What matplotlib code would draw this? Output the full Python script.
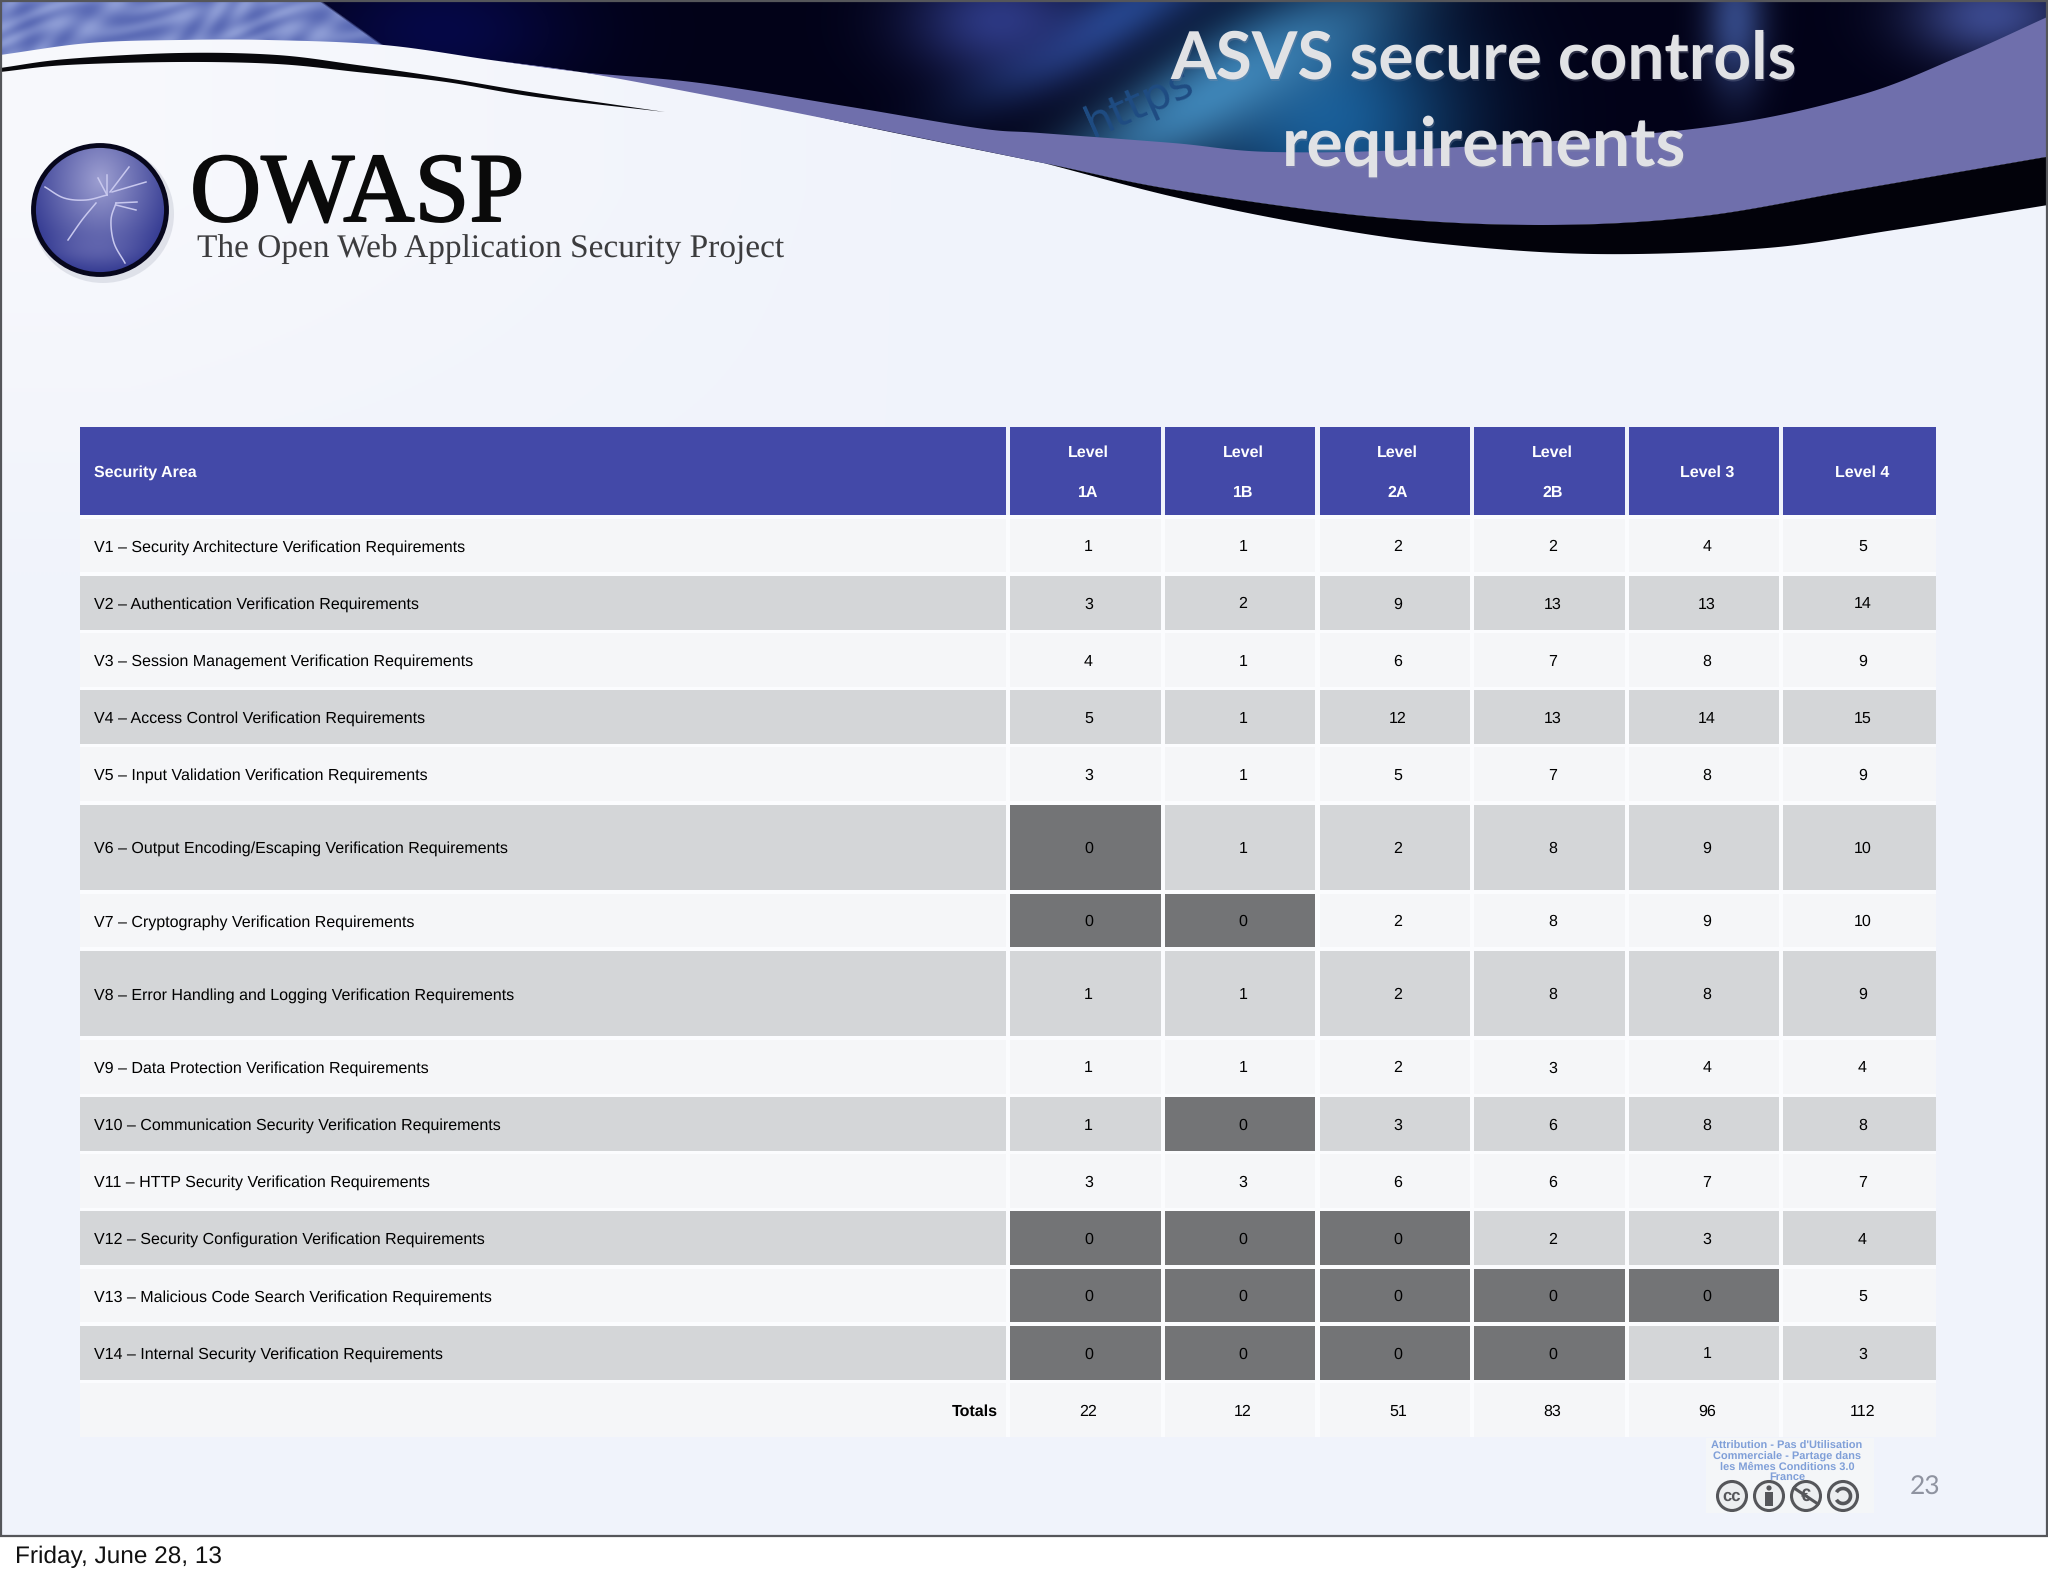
import numpy as np
import matplotlib
matplotlib.use('Agg')
import matplotlib.pyplot as plt
import matplotlib.patheffects as pe
from matplotlib.patches import Rectangle, Polygon, Circle, Ellipse, Arc

# datos de la tabla
areas = ['V1 – Security Architecture Verification Requirements',
         'V2 – Authentication Verification Requirements',
         'V3 – Session Management Verification Requirements',
         'V4 – Access Control Verification Requirements',
         'V5 – Input Validation Verification Requirements',
         'V6 – Output Encoding/Escaping Verification Requirements',
         'V7 – Cryptography Verification Requirements',
         'V8 – Error Handling and Logging Verification Requirements',
         'V9 – Data Protection Verification Requirements',
         'V10 – Communication Security Verification Requirements',
         'V11 – HTTP Security Verification Requirements',
         'V12 – Security Configuration Verification Requirements',
         'V13 – Malicious Code Search Verification Requirements',
         'V14 – Internal Security Verification Requirements']
headers = ['Level\n\n1A', 'Level\n\n1B', 'Level\n\n2A', 'Level\n\n2B', 'Level 3', 'Level 4']
level1a = [1, 3, 4, 5, 3, 0, 0, 1, 1, 1, 3, 0, 0, 0]
level1b = [1, 2, 1, 1, 1, 1, 0, 1, 1, 0, 3, 0, 0, 0]
level2a = [2, 9, 6, 12, 5, 2, 2, 2, 2, 3, 6, 0, 0, 0]
level2b = [2, 13, 7, 13, 7, 8, 8, 8, 3, 6, 6, 2, 0, 0]
level3 = [4, 13, 8, 14, 8, 9, 9, 8, 4, 8, 7, 3, 0, 1]
level4 = [5, 14, 9, 15, 9, 10, 10, 9, 4, 8, 7, 4, 5, 3]
totals = [22, 12, 51, 83, 96, 112]
tall_rows = [5, 7]

W, H = 2048, 1576
AZUL = '#4349a8'
CLARO = '#f5f6f8'
GRIS = '#d4d6d8'
OSCURO = '#737476'
TXT = 'Liberation Sans'

plt.rcParams['text.hinting'] = 'none'


def suave(puntos, n=24):
    # catmull-rom para que las curvas del banner salgan redondas
    p = np.array(puntos, dtype=float)
    p = np.vstack([2 * p[0] - p[1], p, 2 * p[-1] - p[-2]])
    salida = []
    for i in range(1, len(p) - 2):
        t = np.linspace(0, 1, n, endpoint=False)[:, None]
        a, b, c, d = p[i - 1], p[i], p[i + 1], p[i + 2]
        salida.append(0.5 * (2 * b + (c - a) * t + (2 * a - 5 * b + 4 * c - d) * t ** 2
                             + (3 * b - a - 3 * c + d) * t ** 3))
    salida.append(p[-2][None, :])
    return np.vstack(salida)


def z(puntos):
    return [(a * W / 1568, b / 3) for a, b in puntos]


fig = plt.figure(figsize=(W / 100, H / 100), dpi=100, facecolor='white')
ax = fig.add_axes([0, 0, 1, 1])
ax.axis('off')

# fondo de la diapositiva
yy, xx = np.mgrid[0:1536:4j, 0:2048:8j]
fondo = np.clip(1 - xx / 800 - yy / 500, 0, 1)[..., None]
rgb = np.array([0.945, 0.955, 0.985]) * (1 - fondo) + np.array([0.97, 0.975, 0.99]) * fondo
ax.imshow(rgb, extent=(0, W, 1536, 0), aspect='auto', interpolation='bilinear', zorder=0)

# imagen oscura del banner
yy, xx = np.mgrid[0:230, 0:2048]


def mancha(cx, cy, sx, sy, giro=0.0):
    c, s = np.cos(giro), np.sin(giro)
    u = (xx - cx) * c - (yy - cy) * s
    v = (xx - cx) * s + (yy - cy) * c
    return np.exp(-(u / sx) ** 2 - (v / sy) ** 2)[..., None]


textura = np.sin(xx / 11 + yy / 6 + 2 * np.sin(xx / 37)) * np.sin(xx / 23 - yy / 9 + 1.5 * np.sin(yy / 13 + xx / 19))
textura = (0.5 + 0.5 * textura)[..., None]
img = np.ones((230, 2048, 3)) * np.array([2, 2, 24]) / 255
for cx, cy, sx, sy, giro, col in [(440, 30, 130, 70, 0, (6, 8, 70)),
                                  (1330, 120, 130, 120, 0, (24, 92, 150)),
                                  (1220, 90, 190, 48, 0.52, (62, 132, 182)),
                                  (1110, 20, 140, 34, 0.5, (36, 70, 140)),
                                  (1000, 20, 90, 55, 0, (44, 56, 130)),
                                  (1735, 20, 30, 70, 0, (50, 70, 130)),
                                  (1990, 15, 80, 45, 0, (58, 72, 140))]:
    m = mancha(cx, cy, sx, sy, giro)
    img = img * (1 - m) + np.array(col) / 255 * m

# zona moteada arriba a la izquierda
izq = np.clip(321 + yy * 1.4 - xx, 0, 4)[..., None] / 4
moteado = np.array([92, 108, 182]) / 255 * (1 - textura) + np.array([140, 155, 212]) / 255 * textura
img = img * (1 - izq) + moteado * izq

borde_sup = [(0, 55), (89, 43), (179, 40), (268, 40), (384, 45), (491, 60), (580, 72), (700, 90)] \
    + z([(650, 370), (800, 490), (900, 570), (1050, 650), (1180, 675), (1300, 650), (1420, 570), (1568, 470)])
zona = np.vstack([[(0, 0)], suave(borde_sup), [(W, 0)]])
forma = Polygon(zona, closed=True, fc='none', ec='none', transform=ax.transData)
ax.add_patch(forma)
banner = ax.imshow(img, extent=(0, W, 230, 0), aspect='auto', zorder=1)
banner.set_clip_path(forma)
ax.text(1140, 103, 'https', fontsize=32, family='DejaVu Sans', color='#1f4c82', rotation=24,
        ha='center', va='center', zorder=1.5)

# banda lila y curva negra
arriba = suave([(491, 60), (580, 72), (700, 83)]
               + z([(650, 320), (750, 385)]) + [(1040, 133), (1173, 143), (1273, 152)]
               + z([(1100, 445), (1300, 385), (1420, 290), (1500, 170), (1568, 50)]))
abajo = suave([(491, 60), (580, 72), (700, 94)]
              + z([(650, 370), (800, 490), (900, 570), (1050, 650), (1180, 675), (1300, 650),
                   (1420, 570), (1568, 470)]))
ax.add_patch(Polygon(np.vstack([arriba, abajo[::-1]]), fc='#6f6fac', ec='none', zorder=2))
negro = suave(z([(800, 490), (900, 592), (1000, 672), (1100, 730), (1220, 762), (1350, 745),
                 (1450, 690), (1568, 615)]))
ax.add_patch(Polygon(np.vstack([abajo[abajo[:, 0] >= 800 * W / 1568], negro[::-1]]), fc='#02020a', ec='none', zorder=2))

# curva fina de la izquierda
fina_a = suave([(0, 68), (67, 59), (179, 53), (277, 55), (357, 65), (446, 78), (536, 93), (665, 112)])
fina_b = suave([(0, 72), (67, 65), (179, 62), (277, 64), (357, 72), (446, 82), (536, 97), (665, 112)])
ax.add_patch(Polygon(np.vstack([fina_a, fina_b[::-1]]), fc='#08080c', ec='none', zorder=2))

# titulo
for txt, y, size in [('ASVS secure controls', 78, 47.3), ('requirements', 165.7, 49)]:
    ax.text(1485, y + 2, txt, family='Lato', weight='bold', fontsize=size, color='#8a90a8', alpha=0.3,
            ha='center', va='baseline', zorder=3)
    ax.text(1484, y, txt, family='Lato', weight='bold', fontsize=size, color='#e1e2e5',
            ha='center', va='baseline', zorder=3)

# logo
ax.add_patch(Ellipse((103, 214), 142, 138, fc='#c4c8d4', ec='none', alpha=0.45, zorder=2))
yy, xx = np.mgrid[140:280, 30:170]
r = np.hypot((xx - 100) / 68, (yy - 180) / 85)[..., None]
r2 = np.exp(-((xx - 95) / 45.0) ** 2 - ((yy - 250) / 14.0) ** 2)[..., None]
cara = np.array([158, 160, 210]) * (1 - r) ** 1 + np.array([62, 68, 152]) * r
cara = cara * (1 - 0.35 * r2) + np.array([122, 124, 190]) * 0.35 * r2
logo = ax.imshow(np.clip(cara, 0, 255).astype(np.uint8), extent=(30, 170, 280, 140), aspect='auto', zorder=2.1)
circulo = Ellipse((100, 210), 133, 129, fc='none', ec='#07071c', lw=3.5, zorder=2.2)
ax.add_patch(circulo)
logo.set_clip_path(circulo)
for tramo in [[(45, 187), (64, 198), (86, 200), (107, 195)],
              [(96, 203), (82, 220), (68, 240)],
              [(116, 203), (111, 220), (114, 243), (125, 263)],
              [(107, 195), (98, 178)], [(107, 195), (107, 175)], [(110, 192), (129, 167)],
              [(112, 192), (146, 182)], [(116, 203), (137, 202)], [(116, 205), (136, 210)]]:
    t = suave(tramo, 8)
    ax.plot(t[:, 0], t[:, 1], color='#c8c8ee', lw=1.1, zorder=2.3)
ax.text(190, 221, 'OWASP', family='Liberation Serif', fontsize=71, color='#0a0a0a', ha='left', va='baseline', zorder=3,
        path_effects=[pe.withStroke(linewidth=1.4, foreground='#0a0a0a')])
ax.text(197, 258, 'The Open Web Application Security Project', family='Liberation Serif', fontsize=24.05,
        color='#3c3c3e', ha='left', va='baseline', zorder=3)

# tabla
col_ini = [1010, 1165, 1319.7, 1474, 1629, 1783]
col_fin = [1161, 1315, 1470, 1625, 1779, 1936]
x0, x1 = 80, 1006
sep = 3.4
h_normal, h_alta = 53.8, 85.6
d_y, d_x = 1.7, 3
niveles = np.column_stack([level1a, level1b, level2a, level2b, level3, level4])

ax.add_patch(Rectangle((x0, 515), 1936 - x0, 922, fc='#fbfcfe', ec='none', zorder=1.9))
ax.add_patch(Rectangle((x0, 427), x1 - x0, 88, fc=AZUL, ec='none', zorder=2))
ax.text(94, 473, 'Security Area', family=TXT, weight='bold', fontsize=11.5, color='white', ha='left', va='center', zorder=3)
for a, b, h in zip(col_ini, col_fin, headers):
    ax.add_patch(Rectangle((a, 427), b - a, 88, fc=AZUL, ec='none', zorder=2))
    ax.text((a + b) / 2 + d_x, 473, h, family=TXT, weight='bold', fontsize=11.5, color='white', ha='center', va='center',
            linespacing=1.42, zorder=3)

y = 518.5
for i, area in enumerate(areas):
    alto = h_alta if i in tall_rows else h_normal
    fila = GRIS if i % 2 else CLARO
    ax.add_patch(Rectangle((x0, y), x1 - x0, alto, fc=fila, ec='none', zorder=2))
    ax.text(94, y + alto / 2 + d_y, area, family=TXT, fontsize=11.5, color='black', ha='left', va='center', zorder=3)
    for a, b, v in zip(col_ini, col_fin, niveles[i]):
        ax.add_patch(Rectangle((a, y), b - a, alto, fc=OSCURO if v == 0 else fila, ec='none', zorder=2))
        ax.text((a + b) / 2 + d_x, y + alto / 2 + d_y, str(v), family=TXT, fontsize=11.5,
                color='black', ha='center', va='center', zorder=3)
    y += alto + sep

ax.add_patch(Rectangle((x0, y), x1 - x0, h_normal, fc=CLARO, ec='none', zorder=2))
ax.text(998, y + h_normal / 2 + d_y, 'Totals', family=TXT, weight='bold', fontsize=11.5, color='black', ha='right', va='center', zorder=3)
for a, b, v in zip(col_ini, col_fin, totals):
    ax.add_patch(Rectangle((a, y), b - a, h_normal, fc=CLARO, ec='none', zorder=2))
    ax.text((a + b) / 2 + d_x, y + h_normal / 2 + d_y, str(v), family=TXT, fontsize=11.5, color='black', ha='center', va='center', zorder=3)

# licencia cc
ax.add_patch(Rectangle((1706, 1438), 168, 75, fc='#f4f6f8', ec='none', zorder=2))
for txt, yt in [("Attribution - Pas d'Utilisation", 1446), ('Commerciale - Partage dans', 1456.5),
                ('les Mêmes Conditions 3.0', 1467), ('France', 1477)]:
    ax.text(1787, yt, txt, family=TXT, weight='bold', fontsize=7.9, color='#7f9fd8', ha='center', va='center', zorder=3)
for cx in [1732, 1769, 1806, 1843]:
    ax.add_patch(Circle((cx, 1496), 14.5, fc='#eceef0', ec='#55565a', lw=2.2, zorder=3))
ax.text(1732, 1496, 'cc', family=TXT, weight='bold', fontsize=12, color='#55565a', ha='center', va='center', zorder=4)
ax.add_patch(Circle((1769, 1488), 2.6, fc='#55565a', ec='none', zorder=4))
ax.add_patch(Rectangle((1765, 1492), 8, 14, fc='#55565a', ec='none', zorder=4))
ax.text(1806, 1496, '€', family=TXT, weight='bold', fontsize=13, color='#55565a', ha='center', va='center', zorder=4)
ax.plot([1794, 1818], [1488, 1504], color='#55565a', lw=2.2, zorder=4)
ax.add_patch(Arc((1843, 1496), 15, 15, theta1=-150, theta2=150, ec='#55565a', lw=2.6, zorder=4))

ax.text(1925, 1487, '23', family='Lato', fontsize=19, color='#8f93a0', ha='center', va='center', zorder=3)

# marco de la diapositiva y fecha
ax.add_patch(Rectangle((0.8, 0.8), W - 1.6, 1535.6, fc='none', ec='#55565a', lw=1.6, zorder=5))
ax.text(15, 1557, 'Friday, June 28, 13', family=TXT, fontsize=17.55, color='#111111', ha='left', va='center', zorder=3)

ax.set_xlim(0, W)
ax.set_ylim(H, 0)
fig.savefig('out.png', dpi=100)
